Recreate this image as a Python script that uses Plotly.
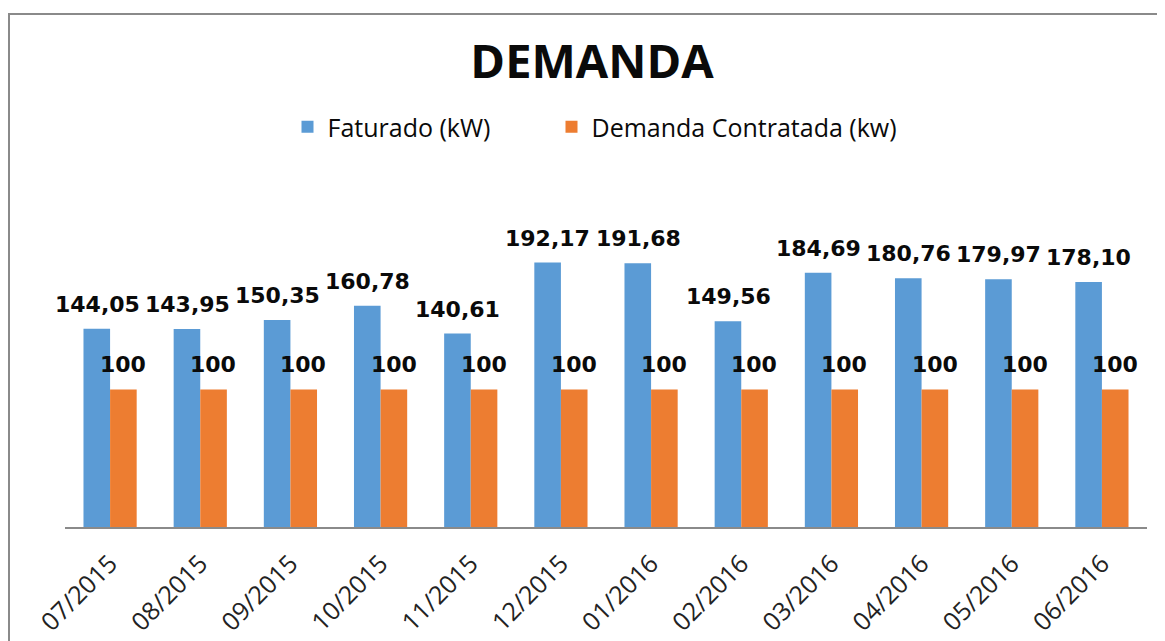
import plotly.graph_objects as go

categories = ["07/2015", "08/2015", "09/2015", "10/2015", "11/2015", "12/2015",
              "01/2016", "02/2016", "03/2016", "04/2016", "05/2016", "06/2016"]
faturado = [144.05, 143.95, 150.35, 160.78, 140.61, 192.17,
            191.68, 149.56, 184.69, 180.76, 179.97, 178.10]
contratada = [100] * 12
faturado_labels = ["144,05", "143,95", "150,35", "160,78", "140,61", "192,17",
                   "191,68", "149,56", "184,69", "180,76", "179,97", "178,10"]
contratada_labels = ["100"] * 12

BLUE = "#5B9BD5"
ORANGE = "#ED7D31"

# page body has an 8px margin, so figure coords = reference coords - 8
W, H = 1157, 633
L, R, T, B = 57, 18, 175, 114
PW = W - L - R
PH = H - T - B

fig = go.Figure()
fig.add_trace(go.Bar(x=categories, y=faturado, name="Faturado (kW)", showlegend=True,
                     marker=dict(color=BLUE, line=dict(width=0)), legend="legend"))
fig.add_trace(go.Bar(x=categories, y=contratada, name="Demanda Contratada (kw)", showlegend=True,
                     marker=dict(color=ORANGE, line=dict(width=0)), legend="legend2"))

label_font = dict(family="DejaVu Sans", size=22, color="#0a0a0a", weight="bold")
annotations = []
for c, v, t in zip(categories, faturado, faturado_labels):
    annotations.append(dict(x=c, y=v, text=t, showarrow=False, xshift=-13,
                            yanchor="bottom", yshift=10, font=label_font))
for c, v, t in zip(categories, contratada, contratada_labels):
    annotations.append(dict(x=c, y=v, text=t, showarrow=False, xshift=13,
                            yanchor="bottom", yshift=10, font=label_font))

legend_font = dict(family="Open Sans", size=25, color="#0a0a0a")
legend_y = (519 - 119) / PH

fig.update_layout(
    width=W, height=H, showlegend=True,
    margin=dict(l=L, r=R, t=T, b=B, autoexpand=False),
    paper_bgcolor="white", plot_bgcolor="white",
    barmode="group", bargap=0.41, bargroupgap=0,
    title=dict(text="DEMANDA", x=584 / W, xanchor="center", y=1 - 54 / H, yanchor="middle",
               font=dict(family="Open Sans", size=47, color="#0a0a0a", weight="bold")),
    legend=dict(orientation="h", x=(279.5 - L) / PW, xanchor="left", visible=True,
                y=legend_y, yanchor="middle", font=legend_font, itemwidth=30),
    legend2=dict(orientation="h", x=(543.5 - L) / PW, xanchor="left", visible=True,
                 y=legend_y, yanchor="middle", font=legend_font, itemwidth=30),
    xaxis=dict(type="category", range=[-0.5, len(categories) - 0.5],
               showline=True, linecolor="#8a8a8a", linewidth=2, tickangle=-45,
               ticks="", showgrid=False, automargin=False,
               ticklabelstandoff=10,
               tickfont=dict(family="Open Sans", size=25, color="#222")),
    yaxis=dict(range=[0, 250], showticklabels=False, showgrid=False, zeroline=False,
               showline=False, automargin=False),
    annotations=annotations,
    shapes=[dict(type="rect", xref="paper", yref="paper",
                 x0=(1 - L) / PW, x1=(W + 20 - L) / PW,
                 y0=-0.5, y1=(519 - 6) / PH,
                 line=dict(color="#8a8a8a", width=2), fillcolor="rgba(0,0,0,0)",
                 layer="below")],
)

fig.write_html("out.html")
